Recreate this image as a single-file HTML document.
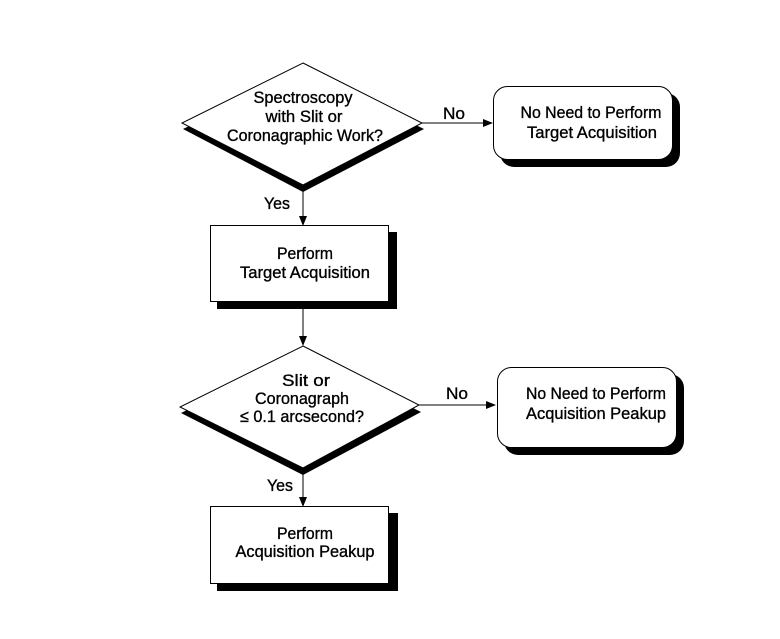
<!DOCTYPE html>
<html><head><meta charset="utf-8"><style>
html,body{margin:0;padding:0;background:#fff;}
svg{display:block;}
text{font-family:"Liberation Sans",Arial,sans-serif;font-size:17px;fill:#000;stroke:#000;stroke-width:0.35;}
</style></head><body>
<svg width="780" height="639" viewBox="0 0 780 639" xmlns="http://www.w3.org/2000/svg">
<defs><marker id="a" markerWidth="10" markerHeight="8" refX="9" refY="4" orient="auto" markerUnits="userSpaceOnUse"><path d="M0,0 L10,4 L0,8 z" fill="#000"/></marker></defs>

<polygon points="303,70 424,129 303,192 183,129" fill="#000"/>
<polygon points="303,63 422,123 303,185 182,123" fill="#fff" stroke="#000" stroke-width="1"/>
<text x="303" y="103" text-anchor="middle" textLength="99" lengthAdjust="spacingAndGlyphs">Spectroscopy</text>
<text x="304" y="122" text-anchor="middle" textLength="77" lengthAdjust="spacingAndGlyphs">with Slit or</text>
<text x="305" y="141" text-anchor="middle" textLength="156" lengthAdjust="spacingAndGlyphs">Coronagraphic Work?</text>

<line x1="422" y1="123" x2="492" y2="123" stroke="#000" marker-end="url(#a)"/>
<text x="443" y="119" textLength="22" lengthAdjust="spacingAndGlyphs">No</text>

<rect x="500" y="93" width="180" height="74" rx="14" fill="#000"/>
<rect x="493.5" y="86.5" width="179" height="73" rx="14" fill="#fff" stroke="#000"/>
<text x="591" y="118" text-anchor="middle" textLength="141" lengthAdjust="spacingAndGlyphs">No Need to Perform</text>
<text x="592" y="138" text-anchor="middle" textLength="130" lengthAdjust="spacingAndGlyphs">Target Acquisition</text>

<line x1="303" y1="186" x2="303" y2="225" stroke="#000" marker-end="url(#a)"/>
<text x="264" y="209" textLength="26" lengthAdjust="spacingAndGlyphs">Yes</text>

<rect x="217" y="232" width="180" height="77" fill="#000"/>
<rect x="210.5" y="225.5" width="178" height="76" fill="#fff" stroke="#000"/>
<text x="305" y="259" text-anchor="middle" textLength="56" lengthAdjust="spacingAndGlyphs">Perform</text>
<text x="305" y="278" text-anchor="middle" textLength="130" lengthAdjust="spacingAndGlyphs">Target Acquisition</text>

<line x1="303" y1="309" x2="303" y2="345" stroke="#000" marker-end="url(#a)"/>

<polygon points="303,353 421,412 303,475 181,413" fill="#000"/>
<polygon points="303,346 419,405 303,468 180,407" fill="#fff" stroke="#000" stroke-width="1"/>
<text x="306" y="386" text-anchor="middle" textLength="48" lengthAdjust="spacingAndGlyphs">Slit or</text>
<text x="302" y="404" text-anchor="middle" textLength="94" lengthAdjust="spacingAndGlyphs">Coronagraph</text>
<text x="302" y="422" text-anchor="middle" textLength="124" lengthAdjust="spacingAndGlyphs">≤ 0.1 arcsecond?</text>

<line x1="419" y1="405" x2="495" y2="405" stroke="#000" marker-end="url(#a)"/>
<text x="446" y="399" textLength="22" lengthAdjust="spacingAndGlyphs">No</text>

<rect x="504" y="374" width="180" height="81" rx="14" fill="#000"/>
<rect x="497.5" y="367.5" width="179" height="80" rx="14" fill="#fff" stroke="#000"/>
<text x="596" y="399" text-anchor="middle" textLength="140" lengthAdjust="spacingAndGlyphs">No Need to Perform</text>
<text x="596" y="419" text-anchor="middle" textLength="140" lengthAdjust="spacingAndGlyphs">Acquisition Peakup</text>

<line x1="303" y1="469" x2="303" y2="506" stroke="#000" marker-end="url(#a)"/>
<text x="267" y="491" textLength="26" lengthAdjust="spacingAndGlyphs">Yes</text>

<rect x="217" y="513" width="181" height="78" fill="#000"/>
<rect x="210.5" y="506.5" width="178" height="77" fill="#fff" stroke="#000"/>
<text x="305" y="539" text-anchor="middle" textLength="56" lengthAdjust="spacingAndGlyphs">Perform</text>
<text x="305" y="557" text-anchor="middle" textLength="139" lengthAdjust="spacingAndGlyphs">Acquisition Peakup</text>
</svg>
</body></html>
